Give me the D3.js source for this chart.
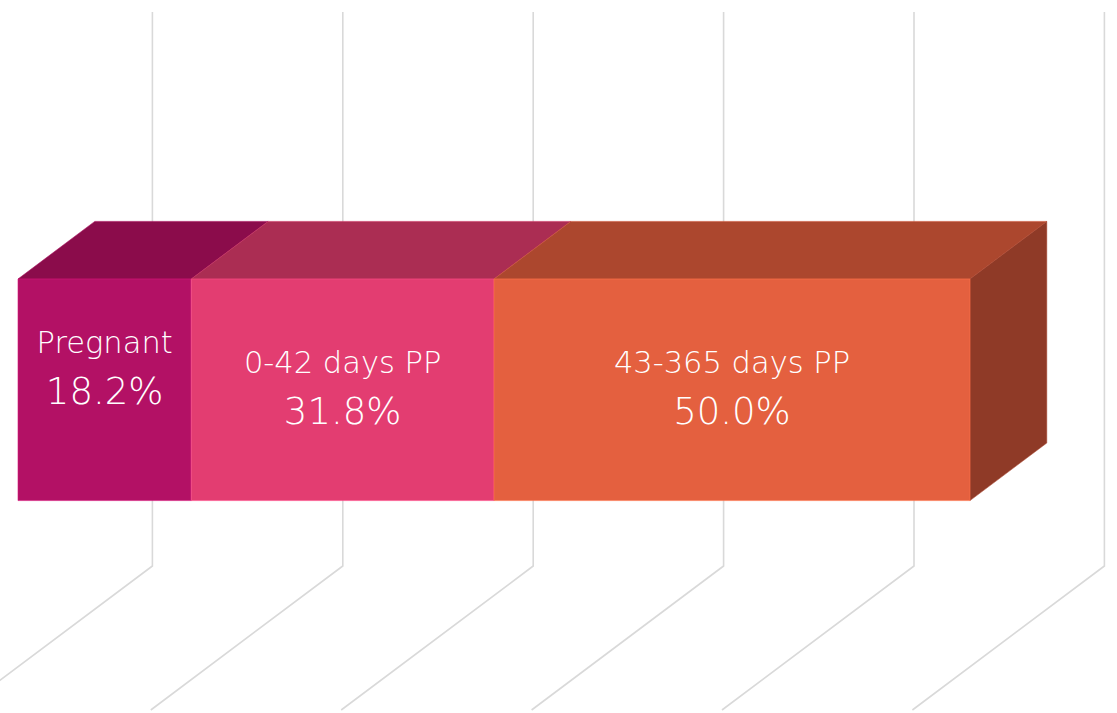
<!DOCTYPE html>
<html>
<head>
<meta charset="utf-8">
<script src="https://cdn.jsdelivr.net/npm/d3@7"></script>
<style>
  html, body { margin: 0; padding: 0; background: #ffffff; }
  svg { display: block; }
</style>
</head>
<body>
<svg id="chart" width="1117" height="713"></svg>
<script>
// ---- data ----
const categories = ["Pregnant", "0-42 days PP", "43-365 days PP"];
const values = [18.2, 31.8, 50.0];
const valueLabels = ["18.2%", "31.8%", "50.0%"];
const gridTicks = [0, 20, 40, 60, 80, 100];

// ---- styles ----
const frontColors = ["#B31165", "#E33D71", "#E4603F"];
const topColors = ["#8B0C4B", "#AB2D53", "#AC472E"];
const sideColor = "#8F3A27";
const gridColor = "#D9D9D9";
const fontFamily = "'DejaVu Sans', 'Open Sans', sans-serif";

// ---- geometry ----
const W = 1117, H = 713;
const depth = { dx: 192, dy: -144 };   // full floor depth, front -> back wall
const barZ = [0.3, 0.7];               // bar occupies middle of the depth
const wallTop = 12, floorFront = 710;

const svg = d3.select("#chart");

// x scale in the floor-front plane (z = 0)
const x = d3.scaleLinear().domain([0, 100]).range([-39.6, 912.4]);
// category band in the floor-front plane
const yBand = d3.scaleBand()
  .domain(["all"])
  .range([wallTop - depth.dy, floorFront])
  .paddingInner(0.6)
  .paddingOuter(0.3);

function proj(v, y, z) {
  return [x(v) + z * depth.dx, y + z * depth.dy];
}

// ---- gridlines (back wall + floor) ----
svg.append("g").selectAll("path")
  .data(gridTicks)
  .join("path")
  .attr("d", v => {
    const top = proj(v, wallTop - depth.dy, 1);
    const back = proj(v, floorFront, 1);
    const front = proj(v, floorFront, 0);
    return d3.line()([top, back, front]);
  })
  .attr("fill", "none")
  .attr("stroke", gridColor)
  .attr("stroke-width", 1.6);

// ---- stacked segments ----
let acc = 0;
const segs = values.map((v, i) => {
  const s = { i, start: acc, end: acc + v, cat: categories[i], label: valueLabels[i] };
  acc += v;
  return s;
});

const y0 = yBand("all"), y1 = y0 + yBand.bandwidth();
const [zf, zb] = barZ;
const g = svg.append("g");

// top faces
g.selectAll("path.top")
  .data(segs)
  .join("path")
  .attr("class", "top")
  .attr("d", s => d3.line()([
    proj(s.start, y0, zf), proj(s.end, y0, zf),
    proj(s.end, y0, zb), proj(s.start, y0, zb)
  ]) + "Z")
  .attr("fill", s => topColors[s.i])
  .attr("stroke", s => d3.color(topColors[s.i]).brighter(0.5))
  .attr("stroke-opacity", 0.6)
  .attr("stroke-width", 1);

// right end face of last segment
const last = segs[segs.length - 1];
g.append("path")
  .attr("d", d3.line()([
    proj(last.end, y0, zf), proj(last.end, y0, zb),
    proj(last.end, y1, zb), proj(last.end, y1, zf)
  ]) + "Z")
  .attr("fill", sideColor)
  .attr("stroke", d3.color(sideColor).brighter(0.5))
  .attr("stroke-opacity", 0.5)
  .attr("stroke-width", 1);

// front faces
g.selectAll("path.front")
  .data(segs)
  .join("path")
  .attr("class", "front")
  .attr("d", s => d3.line()([
    proj(s.start, y0, zf), proj(s.end, y0, zf),
    proj(s.end, y1, zf), proj(s.start, y1, zf)
  ]) + "Z")
  .attr("fill", s => frontColors[s.i])
  .attr("stroke", s => d3.color(frontColors[s.i]).brighter(0.5))
  .attr("stroke-opacity", 0.6)
  .attr("stroke-width", 1);

// ---- labels ----
const labelLift = { "Pregnant": -20 };
const midY = (proj(0, y0, zf)[1] + proj(0, y1, zf)[1]) / 2;
const lab = svg.append("g")
  .attr("font-family", fontFamily)
  .attr("font-weight", 300)
  .attr("fill", "#ffffff")
  .attr("text-anchor", "middle");

segs.forEach(s => {
  const cx = proj((s.start + s.end) / 2, y0, zf)[0];
  const lift = labelLift[s.cat] || 0;
  lab.append("text")
    .attr("x", cx)
    .attr("y", midY - 17 + lift)
    .attr("font-size", 30.5)
    .text(s.cat);
  lab.append("text")
    .attr("x", cx)
    .attr("y", midY + 34 + lift)
    .attr("font-size", 37)
    .text(s.label);
});
</script>
</body>
</html>
